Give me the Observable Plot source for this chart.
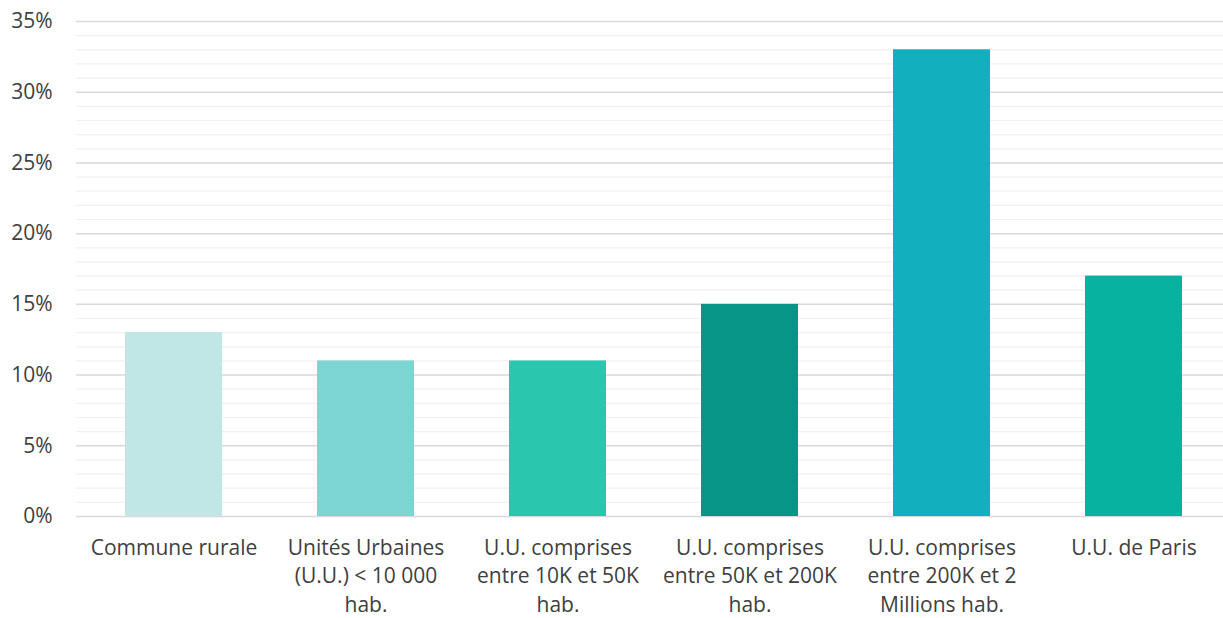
<!DOCTYPE html>
<html><head><meta charset="utf-8">
<script src="https://cdn.jsdelivr.net/npm/d3@7"></script>
<script src="https://cdn.jsdelivr.net/npm/@observablehq/plot@0.6"></script>
<style>
html,body{margin:0;padding:0;background:#fff;overflow:hidden;}
#chart svg{overflow:hidden;}
</style>
</head><body><div id="chart"></div>
<script>
const categories = ["Commune rurale","Unités Urbaines (U.U.) < 10 000 hab.","U.U. comprises entre 10K et 50K hab.","U.U. comprises entre 50K et 200K hab.","U.U. comprises entre 200K et 2 Millions hab.","U.U. de Paris"];
const labels = ["Commune rurale","Unités Urbaines\n(U.U.) < 10 000\nhab.","U.U. comprises\nentre 10K et 50K\nhab.","U.U. comprises\nentre 50K et 200K\nhab.","U.U. comprises\nentre 200K et 2\nMillions hab.","U.U. de Paris"];
const values = [13, 11, 11, 15, 33, 17];
const colors = ["#c0e6e5","#7cd5d0","#28c7ae","#069586","#12b0bf","#07b2a1"];
const majorTicks = [0,5,10,15,20,25,30,35];
const minorTicks = d3.range(0,36).filter(v => v % 5 !== 0);

const data = categories.map((c,i)=>({cat:c, value:values[i], color:colors[i]}));
const labelOf = new Map(categories.map((c,i)=>[c,labels[i]]));

const chart = Plot.plot({
  width: 1223,
  height: 618,
  marginLeft: 76,
  marginRight: -7,
  marginTop: 21,
  marginBottom: 102,
  style: {fontFamily: "'Open Sans', Lato, sans-serif", fontSize: "21px", color: "#404040", background: "#fff"},
  x: {domain: categories, paddingInner: 0.495, paddingOuter: 0.2475, label: null},
  y: {domain: [0,35], label: null},
  marks: [
    Plot.ruleY(minorTicks, {stroke: "#f0f0f0", strokeWidth: 1.2}),
    Plot.ruleY(majorTicks, {stroke: "#d9d9d9", strokeWidth: 1.5}),
    Plot.barY(data, {x: "cat", y: "value", fill: "color"}),
    Plot.axisY({ticks: majorTicks, tickSize: 0, tickPadding: 24, tickFormat: d => d + "%", fontSize: 21, fill: "#404040"}),
    Plot.axisX({tickSize: 0, tickPadding: 18, tickFormat: d => labelOf.get(d), fontSize: 21, lineHeight: 1.36, fill: "#404040"})
  ]
});
document.getElementById("chart").append(chart);
</script>
</body></html>
